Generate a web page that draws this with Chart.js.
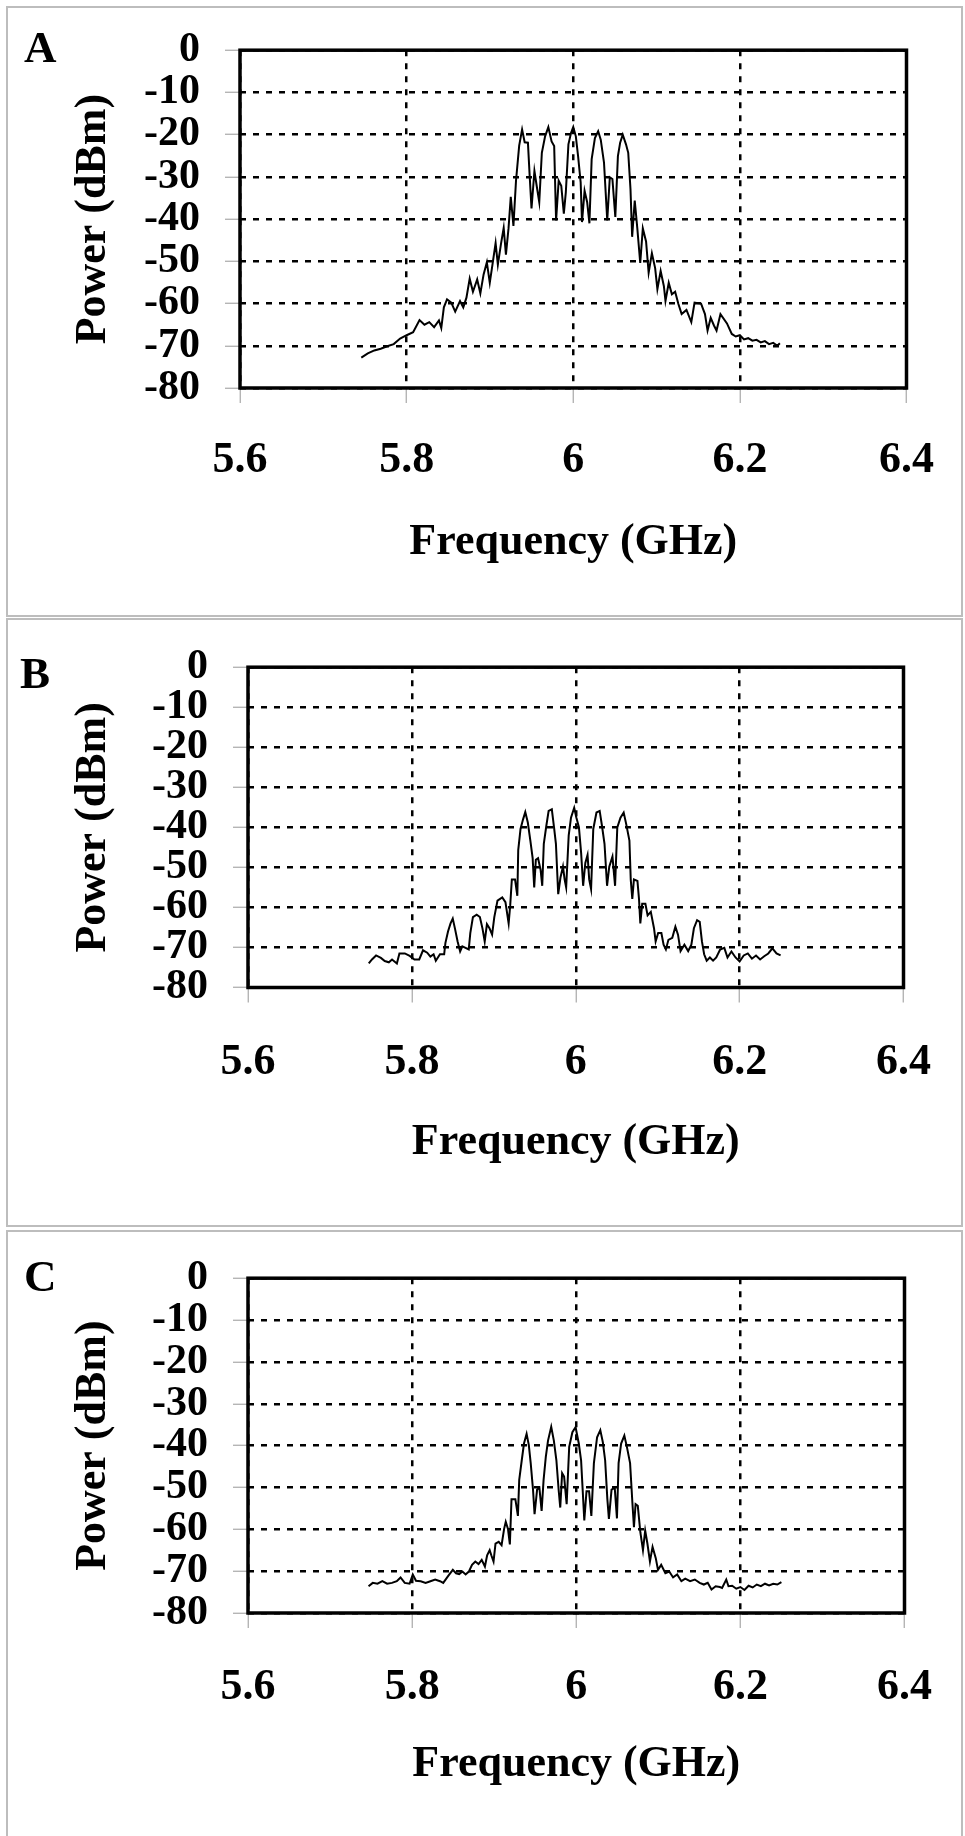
<!DOCTYPE html>
<html>
<head>
<meta charset="utf-8">
<title>Power spectra A, B, C</title>
<script src="https://cdn.jsdelivr.net/npm/chart.js@4.4.1/dist/chart.umd.min.js"></script>
<style>
  html, body { margin: 0; padding: 0; background: #fff; }
  #page { position: relative; width: 965px; height: 1836px; overflow: hidden; }
  .panel { position: absolute; left: 6px; width: 957px; box-sizing: border-box; border: 2px solid #bdbdbd; }
  canvas { position: absolute; left: 0; }
  .letter { position: absolute; font: bold 45px "Liberation Serif", "Times New Roman", serif; line-height: 45px; color: #000; }
</style>
</head>
<body>
<div id="page">
  <div class="panel" style="top:6px;height:611px"></div>
  <div class="panel" style="top:618px;height:609px"></div>
  <div class="panel" style="top:1230px;height:620px"></div>

  <canvas id="chartA" width="965" height="617" style="top:0px"></canvas>
  <canvas id="chartB" width="965" height="611" style="top:617px"></canvas>
  <canvas id="chartC" width="965" height="608" style="top:1228px"></canvas>

  <div class="letter" style="left:24px;top:25px">A</div>
  <div class="letter" style="left:20px;top:651px">B</div>
  <div class="letter" style="left:24px;top:1254px">C</div>
</div>

<script>
// axis ticks
const freqTicks = [5.6, 5.8, 6.0, 6.2, 6.4];
const powerTicks = [0, -10, -20, -30, -40, -50, -60, -70, -80];

// panel A
const freqA = [5.7456, 5.7534, 5.7612, 5.7689, 5.7767, 5.7845, 5.7922, 5.8, 5.8078, 5.8155,
  5.8214, 5.8272, 5.833, 5.8388, 5.8416, 5.8447, 5.8485, 5.8536, 5.8583, 5.8641,
  5.868, 5.8718, 5.8757, 5.8796, 5.8847, 5.8885, 5.8924, 5.8963, 5.8998, 5.9037,
  5.9068, 5.9095, 5.9134, 5.9165, 5.9192, 5.9223, 5.925, 5.9282, 5.9313, 5.9351,
  5.9386, 5.9417, 5.9456, 5.9476, 5.9499, 5.9534, 5.9561, 5.9592, 5.9623, 5.9662,
  5.9701, 5.974, 5.9771, 5.9794, 5.9825, 5.9856, 5.9887, 5.9911, 5.9942, 5.9973,
  6.0, 6.0031, 6.0058, 6.0089, 6.0105, 6.0136, 6.0167, 6.0194, 6.0221, 6.026,
  6.0299, 6.033, 6.0369, 6.0408, 6.0439, 6.047, 6.0505, 6.0536, 6.0563, 6.0594,
  6.0633, 6.066, 6.0687, 6.0707, 6.0738, 6.0769, 6.0804, 6.0835, 6.0874, 6.0905,
  6.0944, 6.0983, 6.101, 6.1049, 6.1088, 6.1107, 6.1146, 6.1184, 6.1223, 6.1262,
  6.1301, 6.1359, 6.1417, 6.1456, 6.1534, 6.1581, 6.1612, 6.165, 6.1689, 6.172,
  6.1767, 6.1845, 6.1903, 6.195, 6.2, 6.205, 6.21, 6.215, 6.22, 6.225,
  6.23, 6.235, 6.24, 6.245, 6.248];
const powerA = [-72.8, -71.8, -71.1, -70.7, -70.1, -69.6, -68.3, -67.5, -66.8, -63.9,
  -65, -64.4, -65.6, -64, -65.8, -60.9, -59, -59.8, -61.9, -59.4,
  -60.9, -58.6, -54.1, -57.2, -54.3, -57.6, -53.1, -50.2, -55.1, -49.9,
  -45.7, -50.8, -45.7, -42.1, -48.4, -42.2, -34.7, -41.6, -30.9, -22.6,
  -18.8, -21.8, -21.9, -29.4, -37.5, -28.6, -32.1, -36, -24.3, -20.4,
  -18.2, -21.6, -22.7, -40.3, -30.9, -32.1, -38.7, -33.6, -22.3, -19.6,
  -18.2, -20.4, -25.1, -31.3, -40.7, -33.3, -36, -41, -25.8, -20.8,
  -19.2, -21.2, -26.6, -40.3, -30.1, -30.5, -39.5, -25.1, -21.9, -20,
  -22.3, -24.3, -32.9, -44.2, -35.6, -42.2, -50.4, -42.2, -45.3, -52.7,
  -48.1, -51.6, -56.6, -52.3, -55.9, -59.4, -55.1, -57.8, -57.2, -60.1,
  -62.5, -61.5, -64.4, -59.8, -60, -62.5, -66.4, -63.4, -65.2, -66.4,
  -62.5, -64.7, -67.2, -67.8, -67.5, -68.5, -68.2, -68.8, -68.6, -69.2,
  -68.9, -69.6, -69.3, -70, -69.4];

// panel B
const freqB = [5.7474, 5.7513, 5.7563, 5.7622, 5.7669, 5.7719, 5.7758, 5.7817, 5.7848, 5.7914,
  5.7973, 5.8031, 5.809, 5.8136, 5.8187, 5.8226, 5.8265, 5.8292, 5.8343, 5.8394,
  5.8409, 5.8441, 5.8472, 5.8499, 5.8526, 5.8558, 5.8589, 5.8616, 5.8655, 5.8694,
  5.8713, 5.8745, 5.8791, 5.883, 5.8862, 5.8889, 5.8916, 5.8947, 5.8979, 5.9006,
  5.9045, 5.9103, 5.9142, 5.9181, 5.92, 5.922, 5.9259, 5.9287, 5.9298, 5.9326,
  5.9357, 5.9384, 5.9415, 5.9446, 5.9474, 5.9493, 5.9513, 5.954, 5.9571, 5.9591,
  5.961, 5.9641, 5.9669, 5.9708, 5.9735, 5.9758, 5.9786, 5.9813, 5.9844, 5.9864,
  5.9883, 5.9914, 5.9942, 5.9981, 6.0008, 6.0039, 6.0066, 6.009, 6.0117, 6.0144,
  6.0164, 6.0187, 6.0214, 6.0253, 6.0292, 6.032, 6.0351, 6.0382, 6.0409, 6.0448,
  6.048, 6.0507, 6.0546, 6.0585, 6.0616, 6.0655, 6.0671, 6.069, 6.071, 6.0753,
  6.0772, 6.0788, 6.0811, 6.085, 6.0877, 6.0916, 6.0955, 6.0975, 6.1006, 6.1045,
  6.1072, 6.11, 6.1131, 6.1178, 6.1216, 6.1248, 6.1279, 6.1326, 6.1372, 6.1411,
  6.1442, 6.1481, 6.1513, 6.154, 6.1567, 6.1598, 6.1637, 6.1676, 6.1715, 6.1762,
  6.1813, 6.1852, 6.19, 6.195, 6.2, 6.205, 6.21, 6.215, 6.22, 6.225,
  6.23, 6.235, 6.24, 6.245, 6.25];
const powerB = [-74, -73, -72, -72.6, -73.4, -73.7, -73, -74, -71.5, -71.5,
  -72.1, -73, -73, -70.7, -71.3, -72.3, -71.7, -73.3, -71.7, -71.7,
  -68.9, -66, -64, -62.8, -65.3, -68.5, -71, -69.7, -70.1, -70.5,
  -66.4, -62.4, -61.8, -62.4, -65.3, -68.5, -64.2, -65.2, -66.8, -62.4,
  -58.3, -57.5, -58.7, -64, -59.5, -53, -53, -57.1, -45.7, -40.4,
  -38, -36.2, -38.8, -43.3, -47.7, -55, -48.1, -47.7, -50.6, -54.6,
  -44.1, -39.6, -35.9, -35.5, -40, -44.1, -56.7, -52.6, -49.8, -53,
  -55, -42, -37.6, -35.1, -37.6, -40, -46.5, -54.6, -48.9, -46.9,
  -53, -55.4, -40.4, -36.3, -35.9, -39.6, -44.1, -54.6, -49.8, -47.3,
  -54.6, -40, -37.6, -36.3, -39.2, -43.3, -53, -57.9, -53, -53.4,
  -57.9, -64, -59.1, -59.1, -62, -61.1, -65.2, -68.5, -66.4, -66.4,
  -69.3, -70.5, -68.1, -67.6, -64.8, -66.8, -70.9, -69.3, -70.9, -69.3,
  -65.2, -63.2, -63.6, -68.5, -71.7, -73.3, -72.5, -73.3, -72.5, -70.5,
  -70.1, -72.5, -71, -72.5, -73.5, -72, -71.5, -72.8, -72, -73,
  -72.2, -71.5, -70.2, -71.5, -72];

// panel C
const freqC = [5.7469, 5.752, 5.7578, 5.7637, 5.7695, 5.7754, 5.7813, 5.7859, 5.791, 5.7969,
  5.8008, 5.8047, 5.8105, 5.8164, 5.8223, 5.8281, 5.834, 5.8379, 5.8438, 5.8496,
  5.8535, 5.8574, 5.8613, 5.8652, 5.8691, 5.873, 5.877, 5.8809, 5.8848, 5.8887,
  5.8914, 5.8945, 5.8965, 5.8992, 5.9016, 5.9055, 5.909, 5.9121, 5.9141, 5.9168,
  5.9191, 5.9211, 5.9258, 5.9289, 5.9305, 5.9336, 5.9363, 5.9395, 5.9422, 5.9445,
  5.9473, 5.9492, 5.9523, 5.9551, 5.9578, 5.9602, 5.9629, 5.9656, 5.9695, 5.9727,
  5.9758, 5.9785, 5.9805, 5.9828, 5.9852, 5.9883, 5.9914, 5.9953, 5.9992, 6.0031,
  6.0059, 6.0078, 6.0098, 6.0125, 6.0156, 6.0184, 6.0215, 6.0254, 6.0293, 6.0324,
  6.0352, 6.0379, 6.0398, 6.043, 6.0469, 6.0496, 6.0516, 6.0547, 6.0586, 6.0617,
  6.0656, 6.0684, 6.0703, 6.0723, 6.075, 6.0781, 6.0813, 6.084, 6.0867, 6.0898,
  6.093, 6.0969, 6.0996, 6.1035, 6.1086, 6.1133, 6.118, 6.123, 6.1281, 6.1328,
  6.1387, 6.1445, 6.1504, 6.1555, 6.1602, 6.1648, 6.1699, 6.175, 6.1777, 6.1828,
  6.1855, 6.19, 6.195, 6.2, 6.205, 6.21, 6.215, 6.22, 6.225, 6.23,
  6.235, 6.24, 6.245, 6.25];
const powerC = [-73.6, -72.8, -73, -72.4, -73, -72.8, -72.4, -71.5, -72.8, -73,
  -70.8, -72.3, -72.4, -72.8, -72.4, -72, -72.4, -72.8, -71.2, -69.7,
  -70.5, -70.7, -70.1, -70.8, -70.1, -68.5, -67.7, -68.3, -67.3, -68.9,
  -66.2, -65, -66.2, -67.7, -63.4, -63, -63.8, -59.9, -58.2, -59.9,
  -63.6, -52.8, -52.8, -56.8, -48.2, -43.5, -39.5, -37.2, -39.9, -44.2,
  -50.5, -56.4, -50.5, -50.1, -55.6, -48.2, -42.7, -38.8, -35.5, -38.8,
  -43.5, -50.5, -54.8, -46.6, -47.4, -54, -40.3, -36.8, -35.6, -39.5,
  -43.5, -50.5, -57.9, -50.9, -50.9, -56.8, -44.2, -38, -36.3, -39.2,
  -43.5, -52.8, -57.5, -50.5, -50.1, -57.4, -44.2, -39.5, -37.6, -40.3,
  -44.2, -53.6, -59.5, -54, -54.4, -60.7, -65, -60.3, -63.4, -67.7,
  -64.2, -66.9, -69.7, -68.5, -70.5, -70.1, -71.5, -70.8, -72.4, -71.8,
  -72.4, -72, -72.8, -73.2, -72.8, -74.4, -73.6, -73.8, -74, -72,
  -73.6, -73.5, -74.2, -73.8, -74.5, -73.5, -73.9, -73.2, -73.6, -73,
  -73.4, -73, -73.2, -72.6];

Chart.defaults.font.family = '"Liberation Serif", "Times New Roman", serif';
Chart.defaults.font.weight = 'bold';
Chart.defaults.color = '#000';

// thick black frame round the plot area
const plotFrame = {
  id: 'plotFrame',
  afterDatasetsDraw(chart) {
    const a = chart.chartArea;
    const c = chart.ctx;
    c.save();
    c.lineWidth = 3.5;
    c.strokeStyle = '#000';
    c.strokeRect(a.left, a.top, a.right - a.left, a.bottom - a.top);
    c.restore();
  }
};

// box: plot area inside the canvas + where the labels sit
function createSpectrumChart(id, freqs, powers, box) {
  const ctx = document.getElementById(id);
  if (!ctx) return;
  const W = ctx.width, H = ctx.height;
  const half = 44 * 1.2 / 2;

  const gridStyle = {
    color: '#000',
    lineWidth: 2.5,
    drawTicks: true,
    tickLength: 15,
    tickColor: '#a8a8a8',
    tickWidth: 1.2,
    tickBorderDash: []
  };
  // in v4 the grid line dash lives under border
  const dashed = { display: false, dash: [6, 7] };

  new Chart(ctx, {
    type: 'line',
    data: {
      datasets: [{
        data: freqs.map((f, i) => ({ x: f, y: powers[i] })),
        borderColor: '#000',
        borderWidth: 2,
        pointRadius: 0,
        tension: 0,
        fill: false
      }]
    },
    options: {
      responsive: false,
      animation: false,
      devicePixelRatio: 1,
      layout: { padding: { left: 0, top: box.top, right: W - box.right, bottom: 0 } },
      plugins: { legend: { display: false }, tooltip: { enabled: false } },
      scales: {
        x: {
          type: 'linear',
          min: freqTicks[0],
          max: freqTicks[freqTicks.length - 1],
          ticks: {
            stepSize: 0.2,
            autoSkip: false,
            maxRotation: 0,
            padding: box.xTickPad,
            font: { size: 44, weight: 'bold' },
            callback: v => String(Math.round(v * 10) / 10)
          },
          grid: gridStyle,
          border: dashed,
          title: {
            display: true,
            text: 'Frequency (GHz)',
            font: { size: 44, weight: 'bold' },
            padding: { top: 0, bottom: box.xTitleOff - half }
          },
          afterFit: s => { s.height = H - box.bottom; }
        },
        y: {
          min: powerTicks[powerTicks.length - 1],
          max: powerTicks[0],
          ticks: {
            stepSize: 10,
            autoSkip: false,
            padding: box.left - 15 - box.yTickRight,
            font: { size: 42, weight: 'bold' },
            callback: v => String(v)
          },
          grid: gridStyle,
          border: dashed,
          title: {
            display: true,
            text: 'Power (dBm)',
            font: { size: 44, weight: 'bold' },
            padding: { top: box.yTitleX - half, bottom: 0 }
          },
          afterFit: s => { s.width = box.left; }
        }
      }
    },
    plugins: [plotFrame]
  });
}

window.addEventListener('DOMContentLoaded', function() {
  createSpectrumChart('chartA', freqA, powerA,
    { left: 240, right: 930, top: 45, bottom: 388, xTickPad: 31, xTitleOff: 74, yTickRight: 200, yTitleX: 94 });
  createSpectrumChart('chartB', freqB, powerB,
    { left: 248, right: 930, top: 41, bottom: 370.5, xTickPad: 34, xTitleOff: 85, yTickRight: 208, yTitleX: 94 });
  createSpectrumChart('chartC', freqC, powerC,
    { left: 248, right: 930, top: 41, bottom: 385, xTickPad: 33, xTitleOff: 71, yTickRight: 208, yTitleX: 94 });
});
</script>
</body>
</html>
